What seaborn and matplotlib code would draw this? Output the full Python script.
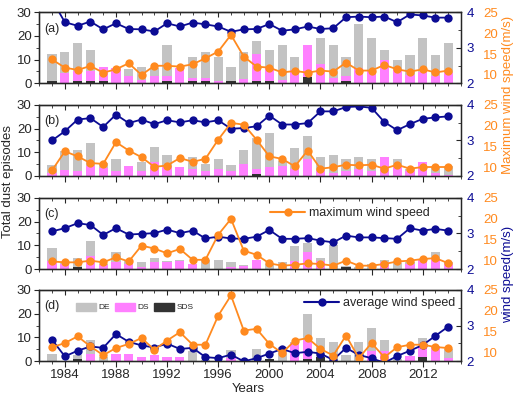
import matplotlib
matplotlib.use("Agg")
import matplotlib.pyplot as plt
import seaborn as sns
from matplotlib.lines import Line2D
from matplotlib.patches import Patch
from matplotlib.ticker import MultipleLocator

sns.set_style("ticks")
plt.rcParams['font.family'] = ['Liberation Sans', 'DejaVu Sans']

years = list(range(1983, 2015))
panel_labels = ["(a)", "(b)", "(c)", "(d)"]

# bars: DE (grey), DS (pink), SDS (dark) -- drawn from zero, overlapping
de_a = [12.2, 13.4, 17.2, 14.1, 7.0, 6.3, 6.0, 7.0, 6.5, 16.2, 6.3, 11.0, 13.1, 11.0, 7.0, 13.4,
        18.0, 14.1, 16.2, 11.3, 16.2, 19.0, 16.2, 11.0, 25.1, 19.0, 14.1, 9.9, 12.0, 19.0, 12.0, 16.9]
ds_a = [0.0, 4.2, 5.4, 5.4, 7.0, 6.3, 3.1, 1.4, 3.1, 3.1, 6.3, 2.1, 2.1, 1.1, 0.0, 1.8,
        12.4, 6.3, 1.4, 5.6, 16.2, 8.0, 2.1, 3.1, 6.3, 5.6, 9.9, 5.6, 3.5, 4.9, 3.1, 4.2]
sds_a = [1, 0, 1, 1, 1, 0, 0, 0, 0, 1, 0, 1, 1, 0, 1, 0,
         1, 1, 0, 0, 2.8, 0, 0, 1, 0, 0, 0, 0, 0, 0, 0, 0]

de_b = [4.8, 10.5, 11.1, 13.9, 5.5, 7.2, 4.4, 5.9, 12.1, 9.0, 3.8, 8.0, 5.1, 7.2, 4.8, 11.1,
        16.0, 18.2, 6.5, 11.8, 16.8, 8.0, 9.0, 7.2, 8.0, 7.2, 8.0, 7.2, 3.0, 5.9, 3.4, 4.1]
ds_b = [1.3, 2.7, 2.0, 4.1, 3.4, 2.0, 4.4, 2.0, 5.9, 3.8, 3.8, 3.0, 2.3, 3.0, 2.0, 5.1,
        3.0, 3.9, 4.1, 3.0, 7.2, 2.0, 1.3, 2.0, 3.0, 2.0, 8.0, 4.1, 2.0, 5.9, 1.3, 0.5]
sds_b = [0, 0, 0, 0, 0, 0, 0, 0, 0, 0, 0, 0, 0, 0, 0, 0,
         1.0, 0, 0, 0, 0, 0, 0, 0, 0, 0, 0, 0, 0, 0, 0, 0]

de_c = [8.9, 2.5, 4.6, 12.0, 2.1, 7.0, 3.5, 2.8, 4.6, 3.5, 3.8, 2.1, 3.8, 3.8, 2.8, 1.8,
        3.8, 2.0, 2.8, 9.9, 11.0, 4.6, 10.3, 1.4, 1.0, 2.0, 3.9, 2.4, 3.1, 4.2, 7.0, 2.8]
ds_c = [3.5, 2.0, 0.0, 5.6, 1.8, 2.8, 2.1, 1.0, 2.8, 2.8, 3.5, 2.1, 0.0, 0.0, 1.0, 1.4,
        3.8, 0.0, 0.0, 3.5, 7.3, 3.5, 0.0, 0.0, 0.0, 0.0, 2.8, 0.0, 2.1, 3.9, 4.2, 2.1]
sds_c = [0, 0, 1.0, 0, 0, 0, 0, 0, 0, 0, 0, 0, 0, 0, 0, 0,
         0, 0, 0, 0, 0, 0, 0, 1.0, 0, 0, 0, 0, 0, 0, 0, 0]

de_d = [3.0, 0.0, 2.5, 9.0, 1.5, 3.0, 3.0, 1.7, 2.4, 1.7, 1.7, 4.1, 0.5, 0.0, 4.5, 0.5,
        5.1, 1.0, 5.9, 7.9, 20.0, 9.7, 7.9, 2.7, 7.9, 13.9, 9.0, 1.0, 2.3, 9.7, 6.2, 5.1]
ds_d = [0, 0, 0, 3.0, 0, 3.0, 3.0, 1.7, 2.4, 1.7, 1.7, 0, 0, 0, 1.3, 0,
        0, 0, 0, 7.6, 9.0, 0, 0, 0, 0, 4.1, 4.1, 0, 2.3, 6.2, 6.2, 1.3]
sds_d = [0, 0, 0.9, 0, 0, 0, 0, 0, 0, 0, 0, 0, 0, 0, 0, 0,
         0, 1.0, 0, 0, 0.85, 1.7, 0, 0, 0, 0, 0, 0, 0, 1.7, 0, 0]

# average wind speed (m/s)
ws_a = [4.35, 3.72, 3.62, 3.74, 3.52, 3.69, 3.53, 3.52, 3.46, 3.69, 3.60, 3.71, 3.66, 3.60, 3.45, 3.52,
        3.53, 3.67, 3.48, 3.52, 3.60, 3.53, 3.55, 3.86, 3.88, 3.86, 3.88, 3.72, 3.94, 3.91, 3.85, 3.85]
ws_b = [3.00, 3.26, 3.59, 3.63, 3.38, 3.73, 3.49, 3.59, 3.46, 3.57, 3.51, 3.57, 3.51, 3.57, 3.33, 3.35,
        3.40, 3.70, 3.45, 3.45, 3.49, 3.82, 3.82, 3.94, 3.96, 3.92, 3.52, 3.29, 3.46, 3.61, 3.65, 3.68]
ws_c = [3.06, 3.15, 3.29, 3.24, 2.96, 3.15, 2.97, 2.99, 3.01, 3.11, 3.01, 3.08, 2.86, 2.91, 2.86, 2.85,
        2.91, 3.10, 2.85, 2.85, 2.87, 2.80, 2.75, 2.94, 2.89, 2.89, 2.87, 2.85, 3.15, 3.08, 3.13, 3.08]
ws_d = [2.60, 2.13, 2.29, 2.41, 2.37, 2.76, 2.54, 2.44, 2.38, 2.49, 2.34, 2.37, 2.11, 2.08, 2.18, 1.99,
        2.08, 2.21, 2.34, 2.22, 2.26, 2.21, 2.03, 2.37, 2.17, 2.08, 1.95, 2.14, 2.29, 2.45, 2.71, 2.97]

# maximum wind speed (m/s)
mx_a = [13.7, 11.75, 11.2, 12.15, 10.55, 11.35, 12.8, 10.0, 12.2, 12.2, 12.0, 12.55, 14.0, 15.6, 19.6, 14.4,
        12.0, 11.75, 10.6, 10.95, 10.55, 11.05, 10.8, 12.95, 11.05, 11.05, 12.4, 11.35, 10.8, 11.35, 10.6, 11.05]
mx_b = [9.35, 13.9, 12.7, 11.1, 10.9, 16.1, 14.1, 12.5, 10.2, 10.5, 12.3, 11.4, 12.1, 16.7, 20.7, 20.3,
        16.7, 12.7, 12.1, 10.3, 14.1, 9.75, 10.1, 10.7, 10.55, 10.7, 9.75, 10.7, 9.75, 10.15, 10.15, 10.15]
mx_c = [9.8, 9.6, 9.6, 10.0, 9.6, 10.8, 9.8, 13.6, 12.9, 11.75, 12.8, 10.2, 10.2, 16.2, 20.0, 12.4,
        11.4, 9.35, 8.8, 9.0, 9.35, 9.2, 8.8, 10.0, 8.8, 8.8, 9.2, 9.8, 10.0, 10.4, 10.6, 9.4]
mx_d = [11.3, 12.3, 13.9, 11.5, 9.4, 11.1, 12.1, 13.5, 10.7, 12.9, 14.9, 11.9, 11.9, 18.85, 23.7, 15.3,
        15.7, 12.1, 9.9, 12.9, 13.5, 10.9, 9.3, 14.1, 8.7, 12.3, 8.9, 11.3, 11.9, 11.9, 11.35, 11.1]

grey = "#c3c3c3"
pink = "#ff80ff"
dark = "#333333"
navy = "#0c0c94"
orange = "#ff8a1f"

panels = [(de_a, ds_a, sds_a, ws_a, mx_a), (de_b, ds_b, sds_b, ws_b, mx_b),
          (de_c, ds_c, sds_c, ws_c, mx_c), (de_d, ds_d, sds_d, ws_d, mx_d)]
bottoms = [0.7912, 0.5589, 0.3258, 0.0952]

fig = plt.figure(figsize=(5.23, 3.99), dpi=100)

for k, (de, ds, sds, ws, mx) in enumerate(panels):
    ax = fig.add_axes([0.0751, bottoms[k], 0.8064, 0.178])
    for vals, col in [(de, grey), (ds, pink), (sds, dark)]:
        sns.barplot(x=years, y=vals, native_scale=True, width=0.72, color=col,
                    saturation=1, linewidth=0, errorbar=None, ax=ax)

    axw = ax.twinx()
    sns.lineplot(x=years, y=ws, ax=axw, color=navy, marker="o", markersize=6,
                 markeredgewidth=0, linewidth=1.3)
    axm = ax.twinx()
    sns.lineplot(x=years, y=mx, ax=axm, color=orange, marker="o", markersize=6,
                 markeredgewidth=0, linewidth=1.3)

    # left axis
    ax.set_ylim(0, 30)
    ax.set_yticks([0, 10, 20, 30])
    ax.yaxis.set_minor_locator(MultipleLocator(5))
    ax.tick_params(axis="y", which="major", direction="out", length=3.5, labelsize=9.5, pad=2)
    ax.tick_params(axis="y", which="minor", direction="out", length=2)
    ax.set_xlim(1982, 2015)
    ax.set_xticks(range(1984, 2013, 4))
    ax.xaxis.set_minor_locator(MultipleLocator(1))
    ax.tick_params(axis="x", which="major", direction="out", length=4, labelsize=9.5,
                   labelbottom=(k == 3), pad=2)
    ax.tick_params(axis="x", which="minor", direction="out", length=2)
    ax.set_xlabel("")
    ax.set_ylabel("")
    top = ax.secondary_xaxis("top")
    top.set_xticks(range(1984, 2013, 4))
    top.xaxis.set_minor_locator(MultipleLocator(1))
    top.tick_params(axis="x", which="major", direction="in", length=3.5, labeltop=False)
    top.tick_params(axis="x", which="minor", direction="in", length=2)
    for sp in ax.spines.values():
        sp.set_linewidth(1)

    # average wind speed axis
    axw.set_ylim(2, 4)
    axw.set_yticks([2, 3, 4])
    axw.yaxis.set_minor_locator(MultipleLocator(0.5))
    axw.tick_params(axis="y", which="major", direction="in", length=3.5, labelcolor=navy,
                    labelsize=9.5, pad=4)
    axw.tick_params(axis="y", which="minor", direction="in", length=2)
    axw.set_ylabel("")

    # maximum wind speed axis (labels only)
    axm.set_ylim(8, 25)
    axm.set_yticks([10, 15, 20, 25])
    axm.spines["right"].set_visible(False)
    axm.tick_params(axis="y", length=0, pad=16, labelcolor=orange, labelsize=9.5)
    axm.set_ylabel("")

    ax.set_xlim(1982, 2015)
    ax.text(0.012, 0.77, panel_labels[k], transform=ax.transAxes, fontsize=9, va="center")

    if k == 2:
        axm.legend(handles=[Line2D([], [], color=orange, marker="o", ms=6, mew=0, lw=1.5)],
                   labels=["maximum wind speed"], loc="center", bbox_to_anchor=(0.737, 0.79),
                   frameon=False, fontsize=9, handlelength=2.8, handletextpad=0.3,
                   borderpad=0, borderaxespad=0)
    if k == 3:
        axm.legend(handles=[Line2D([], [], color=navy, marker="o", ms=6, mew=0, lw=1.5)],
                   labels=["average wind speed"], loc="center", bbox_to_anchor=(0.807, 0.815),
                   frameon=False, fontsize=9, handlelength=2.8, handletextpad=0.3,
                   borderpad=0, borderaxespad=0)
        ax.legend(handles=[Patch(color=grey), Patch(color=pink), Patch(color=dark)],
                  labels=["DE", "DS", "SDS"], ncol=3, loc="center", bbox_to_anchor=(0.227, 0.76),
                  frameon=False, fontsize=6, handlelength=2.4, handleheight=1.1,
                  columnspacing=0.6, handletextpad=0.3, borderpad=0, borderaxespad=0)

fig.text(0.0153, 0.544, "Total dust episodes", rotation=90, ha="center", va="center", fontsize=9.5)
fig.text(0.971, 0.762, "Maximum wind speed(m/s)", rotation=90, ha="center", va="center",
         fontsize=9.5, color=orange)
fig.text(0.971, 0.311, "wind speed(m/s)", rotation=90, ha="center", va="center",
         fontsize=9.5, color=navy)
fig.text(0.474, 0.025, "Years", ha="center", va="center", fontsize=9.5)

fig.savefig("out.png", dpi=100)
